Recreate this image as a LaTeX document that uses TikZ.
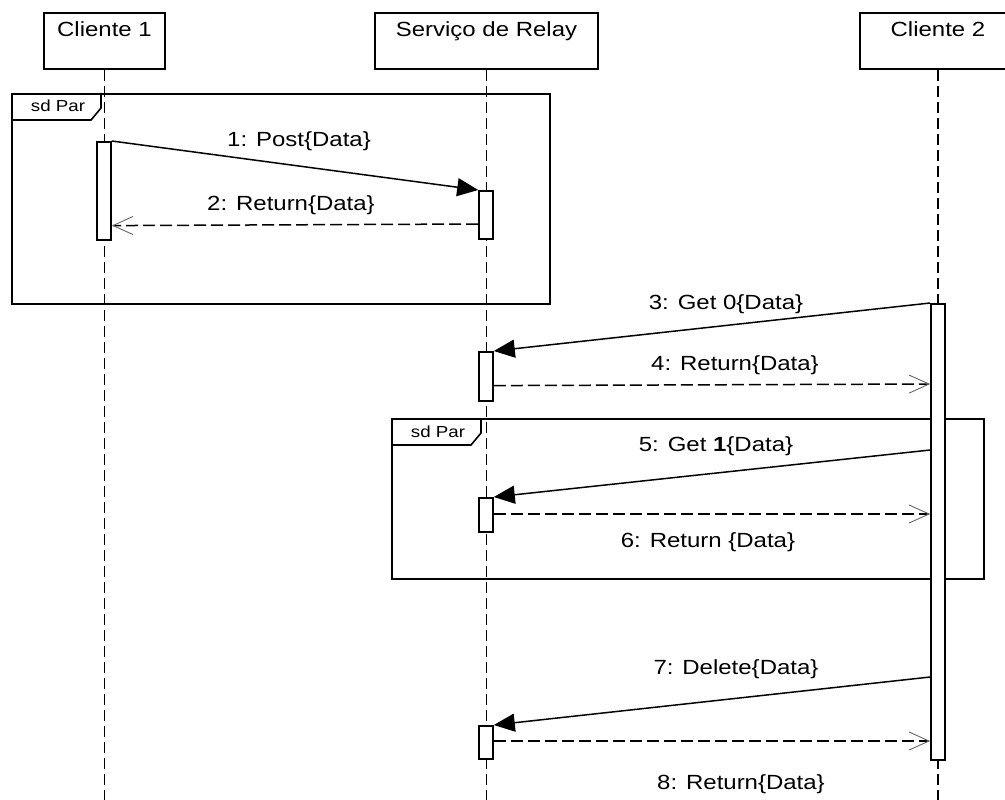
\documentclass[tikz,border=0pt]{standalone}
\usepackage{fontspec}
\setmainfont{Liberation Sans}[FakeStretch=1.17]
\usetikzlibrary{arrows.meta}
\begin{document}
\begin{tikzpicture}[x=1pt,y=-1pt,
  every node/.style={font=\fontsize{20.5}{24}\selectfont},
  actor/.style={draw, line width=1.6pt, fill=white, inner xsep=0pt, inner ysep=0pt,
    text height=24pt, text depth=32pt, anchor=north},
  lifeline/.style={line width=1.7pt, dash pattern=on 11pt off 5pt},
  bar/.style={draw, fill=white, line width=1.6pt, minimum width=14pt, inner sep=0pt, anchor=north},
  frame/.style={draw, line width=1.6pt, inner sep=0pt, anchor=north west},
  tagline/.style={line width=1.6pt},
  tagtext/.style={font=\fontsize{16}{18}\selectfont, anchor=base},
  call/.style={line width=1.5pt, -{Triangle[length=21pt,width=18pt]}},
  reply/.style={line width=1.5pt, dash pattern=on 12pt off 5pt,
    -{Straight Barb[length=20pt,width=18pt,line width=0.9pt,color=black!60]}}
]
\useasboundingbox (0,0) rectangle (1005,800);
\clip (0,0) rectangle (1005,800);

% combined fragments
\node[frame, minimum width=538pt, minimum height=210pt] (f1) at (11,93) {};
\draw[tagline] (f1.north west) ++(90,0) -- ++(0,15) -- ++(-10,12) -- ++(-80,0);
\node[tagtext] (t1) at (58,112) {sd Par};

\node[frame, minimum width=592pt, minimum height=160pt] (f2) at (391,418) {};
\draw[tagline] (f2.north west) ++(90,0) -- ++(0,15) -- ++(-10,12) -- ++(-80,0);
\node[tagtext] (t2) at (438,437) {sd Par};

% participants
\node[actor, minimum width=121pt] (c1) at (104.5,12) {Cliente 1};
\node[actor, minimum width=223pt] (rs) at (486.5,12) {Serviço de Relay};
\node[actor, minimum width=156pt] (c2) at (938,12) {Cliente 2};

% lifelines
\coordinate (c1end) at (c1.south |- 0,800);
\coordinate (rsend) at (rs.south |- 0,800);
\coordinate (c2end) at (c2.south |- 0,800);
\draw[lifeline] (c1.south) -- (c1end);
\draw[lifeline] (rs.south) -- (rsend);
\draw[lifeline] (c2.south) -- (c2end);

% activation bars
\node[bar, minimum height=98pt]  (a1) at (104,141) {};
\node[bar, minimum height=48pt]  (a2) at (486,190) {};
\node[bar, minimum height=456pt] (b2) at (938,303) {};
\node[bar, minimum height=49pt]  (a3) at (486,351) {};
\node[bar, minimum height=34pt]  (a4) at (486,497) {};
\node[bar, minimum height=33pt]  (a5) at (486,725) {};

% messages
\draw[call]  (a1.north east) -- (a2.north west);
\draw[reply] ([yshift=-34pt]a2.north west) -- ([yshift=15pt]a1.south east);
\draw[call]  (b2.north west) -- (a3.north east);
\draw[reply] ([yshift=16pt]a3.south east) -- ([yshift=-81pt]b2.north west);
\draw[call]  ([yshift=-147pt]b2.north west) -- (a4.north east);
\draw[reply] ([yshift=-17pt]a4.north east) -- ([yshift=-211pt]b2.north west);
\draw[call]  ([yshift=-374pt]b2.north west) -- (a5.north east);
\draw[reply] ([yshift=-16pt]a5.north east) -- ([yshift=-438pt]b2.north west);

% message labels
\node (m1) at (299,141.5) {1: Post\{Data\}};
\node (m2) at (291,205) {2: Return\{Data\}};
\node (m3) at (726,304) {3: Get 0\{Data\}};
\node (m4) at (735,365) {4: Return\{Data\}};
\node (m5) at (716,446) {5: Get \textbf{1}\{Data\}};
\node (m6) at (708,542) {6: Return \{Data\}};
\node (m7) at (736,669) {7: Delete\{Data\}};
\node (m8) at (741,784) {8: Return\{Data\}};
\end{tikzpicture}
\end{document}
